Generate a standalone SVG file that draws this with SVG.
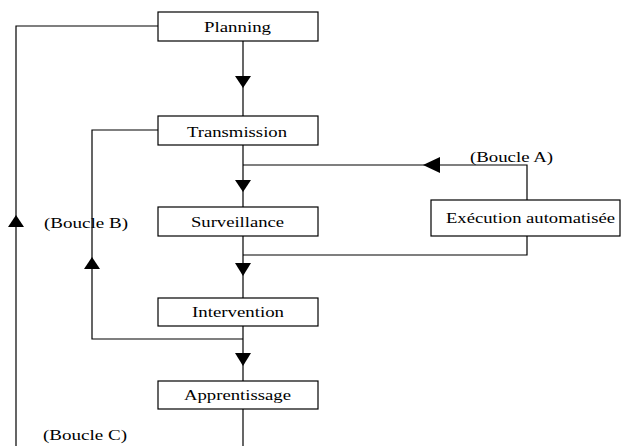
<svg xmlns="http://www.w3.org/2000/svg" width="622" height="446" viewBox="0 0 622 446">
<style>
.box{fill:#fff;stroke:#000;stroke-width:1.2}
.ln{fill:none;stroke:#000;stroke-width:1.2}
.ar{fill:#000;stroke:none}
text{font-family:"Liberation Serif","Times New Roman",serif;font-size:14px;fill:#000}
</style>
<rect width="622" height="446" fill="#fff"/>
<g id="connectors">
<path class="ln" d="M243 41V116"/>
<path class="ar" d="M235 76H251L243 88Z"/>
<path class="ln" d="M243 145V207"/>
<path class="ar" d="M235 180H251L243 192Z"/>
<path class="ln" d="M243 236V298"/>
<path class="ar" d="M235 263H251L243 276Z"/>
<path class="ln" d="M243 326V381"/>
<path class="ar" d="M235 353H251L243 366Z"/>
<path class="ln" d="M243 409V446"/>
<path class="ln" d="M243 165H527V200"/>
<path class="ar" d="M423 165L440 157V173Z"/>
<path class="ln" d="M527 236V255H243"/>
<path class="ln" d="M243 339H92V130H158"/>
<path class="ar" d="M92 257L84 269H100Z"/>
<path class="ln" d="M16 446V26H158"/>
<path class="ar" d="M16 215L8 227H24Z"/>
</g>
<g id="planning"><rect class="box" x="158" y="12" width="160" height="29"/><text x="204" y="32" textLength="67" lengthAdjust="spacingAndGlyphs">Planning</text></g>
<g id="transmission"><rect class="box" x="158" y="116" width="160" height="29"/><text x="187" y="137" textLength="100" lengthAdjust="spacingAndGlyphs">Transmission</text></g>
<g id="surveillance"><rect class="box" x="158" y="207" width="160" height="29"/><text x="191" y="227" textLength="93" lengthAdjust="spacingAndGlyphs">Surveillance</text></g>
<g id="intervention"><rect class="box" x="158" y="298" width="160" height="28"/><text x="192" y="317" textLength="92" lengthAdjust="spacingAndGlyphs">Intervention</text></g>
<g id="apprentissage"><rect class="box" x="158" y="381" width="160" height="28"/><text x="184" y="400" textLength="107" lengthAdjust="spacingAndGlyphs">Apprentissage</text></g>
<g id="execution"><rect class="box" x="431" y="200" width="189" height="36"/><text x="446" y="223" textLength="169" lengthAdjust="spacingAndGlyphs">Exécution automatisée</text></g>
<g id="labels">
<text x="470" y="162" textLength="83" lengthAdjust="spacingAndGlyphs">(Boucle A)</text>
<text x="44" y="228" textLength="84" lengthAdjust="spacingAndGlyphs">(Boucle B)</text>
<text x="43" y="440" textLength="84" lengthAdjust="spacingAndGlyphs">(Boucle C)</text>
</g>
</svg>
